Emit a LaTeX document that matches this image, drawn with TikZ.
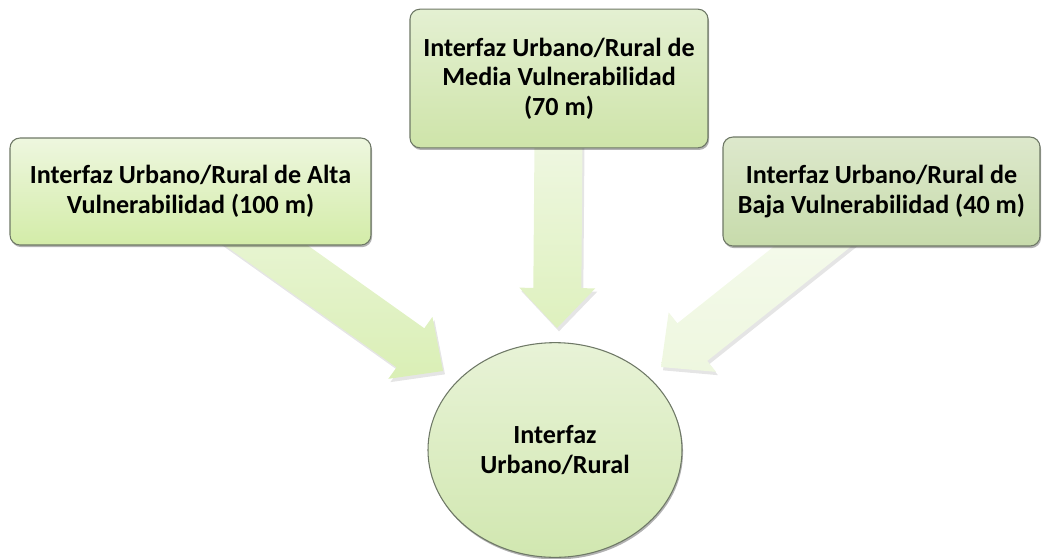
\documentclass[tikz,border=0pt]{standalone}
\usepackage{fontspec}
\setmainfont{Carlito}
\usetikzlibrary{calc,shadows,shapes.geometric}
\pgfdeclarelayer{background}
\pgfsetlayers{background,main}
\definecolor{boxline}{HTML}{6E7866}
\definecolor{altaT}{HTML}{EEF7DF}
\definecolor{altaB}{HTML}{D3ECA8}
\definecolor{mediaT}{HTML}{E4F0D2}
\definecolor{mediaB}{HTML}{CEE4A9}
\definecolor{bajaT}{HTML}{DDE8CC}
\definecolor{bajaB}{HTML}{C7DBAB}
\definecolor{circT}{HTML}{E8F3D7}
\definecolor{circB}{HTML}{D1E7B0}
\newcommand\blkarrow[4]{%
  \coordinate (hb) at ($(#2)!30pt!(#1)$);
  \coordinate (p1) at ($(#1)!18pt!90:(#2)$);
  \coordinate (p2) at ($(hb)!18pt!90:(#2)$);
  \coordinate (p3) at ($(hb)!28.5pt!90:(#2)$);
  \coordinate (p4) at ($(hb)!28.5pt!-90:(#2)$);
  \coordinate (p5) at ($(hb)!18pt!-90:(#2)$);
  \coordinate (p6) at ($(#1)!18pt!-90:(#2)$);
  \fill[black,opacity=0.10,transform canvas={shift={(1.5pt,-2.5pt)}}]
    (p1)--(p2)--(p3)--(#2)--(p4)--(p5)--(p6)--cycle;
  \path[top color=#3,bottom color=#4]
    (p1)--(p2)--(p3)--(#2)--(p4)--(p5)--(p6)--cycle;}
\begin{document}
\begin{tikzpicture}[x=0.75pt,y=-0.75pt,
  txt/.style={font=\bfseries\fontsize{19.6}{22.2}\selectfont, align=center, text=black, inner sep=0pt},
  box/.style={txt, draw=boxline, line width=0.8pt, rounded corners=7.5pt,
    drop shadow={shadow xshift=0.8pt, shadow yshift=-1.6pt, opacity=0.3, fill=black}},
  core/.style={txt, ellipse, draw=boxline, line width=0.8pt,
    drop shadow={shadow xshift=0.8pt, shadow yshift=-1.6pt, opacity=0.3, fill=black}}]
\useasboundingbox (0,0) rectangle (1047,558);
% boxes
\node[box, minimum width=270.75pt, minimum height=80.25pt, top color=altaT, bottom color=altaB]
  (alta) at (190.5,191.5) {Interfaz Urbano/Rural de Alta\\Vulnerabilidad (100 m)};
\node[box, minimum width=223.5pt, minimum height=104pt, top color=mediaT, bottom color=mediaB]
  (media) at (559,78.5) {Interfaz Urbano/Rural de\\Media Vulnerabilidad\\(70 m)};
\node[box, minimum width=237.75pt, minimum height=81.75pt, top color=bajaT, bottom color=bajaB]
  (baja) at (881.5,191.5) {Interfaz Urbano/Rural de\\Baja Vulnerabilidad (40 m)};
\node[core, minimum width=190.5pt, minimum height=161pt, top color=circT, bottom color=circB]
  (urb) at (555,450) {Interfaz\\Urbano/Rural};
% arrow tips
\coordinate (tipL) at (443,371);
\coordinate (tipM) at (557,328);
\coordinate (tipR) at (661,367);
\begin{pgfonlayer}{background}
  \blkarrow{alta.center}{tipL}{altaT}{altaB!85!white}
  \blkarrow{media.center}{tipM}{white!60!mediaT}{altaB!75!white}
  \blkarrow{baja.center}{tipR}{white!55!altaT}{altaT}
\end{pgfonlayer}
\end{tikzpicture}
\end{document}
